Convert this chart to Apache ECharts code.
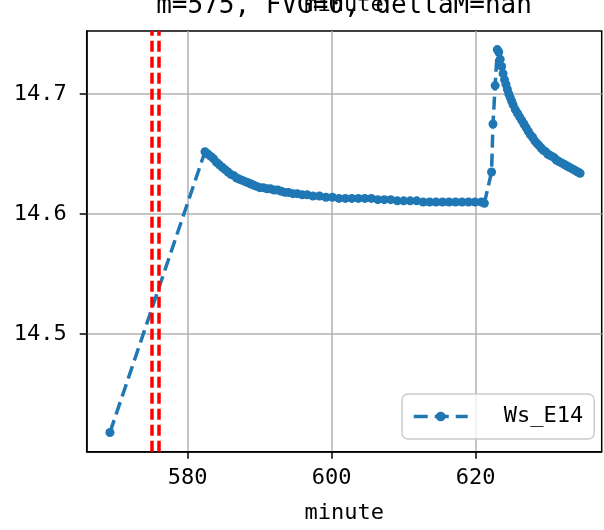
<!DOCTYPE html>
<html>
<head>
<meta charset="utf-8">
<script src="https://cdn.jsdelivr.net/npm/echarts@6/dist/echarts.min.js"></script>
<style>
  html, body { margin: 0; padding: 0; background: #ffffff; }
  #chart { width: 604px; height: 530px; }
</style>
</head>
<body>
<div id="chart"></div>
<script>
// ---- data ----
const titleText = 'm=575, FVG=0, deltaM=nan';
const seriesName = 'Ws_E14';
const xName = 'minute';

const minutes = [
  569.2,
  582.4, 582.8, 583.2, 583.6, 584.0, 584.4, 584.8, 585.2, 585.6, 586.0,
  586.4, 586.8, 587.2, 587.6, 588.0, 588.4, 588.8, 589.2, 589.6, 590.0,
  590.5, 591.0, 591.5, 592.0, 592.5, 593.0, 593.5, 594.0, 594.6, 595.2,
  595.9, 596.6, 597.4, 598.3, 599.2, 600.1, 601.0, 601.9, 602.8, 603.7,
  604.6, 605.5, 606.4, 607.3, 608.2, 609.1, 610.0, 610.9, 611.8, 612.7,
  613.6, 614.5, 615.4, 616.3, 617.2, 618.1, 619.0, 619.9, 620.8, 621.2,
  622.2, 622.4, 622.7,
  623.0, 623.2, 623.4, 623.6, 623.8, 624.0, 624.2, 624.4, 624.6, 624.8,
  625.0, 625.2, 625.5, 625.8, 626.1, 626.4, 626.7, 627.0, 627.3, 627.6,
  627.9, 628.2, 628.5, 628.8, 629.1, 629.4, 629.7, 630.0, 630.3, 630.6,
  630.9, 631.2, 631.5, 631.8, 632.1, 632.4, 632.7, 633.0, 633.3, 633.6,
  633.9, 634.2, 634.5
];
const values = [
  14.418,
  14.652, 14.650, 14.648, 14.646, 14.643, 14.641, 14.639, 14.637, 14.635, 14.633,
  14.632, 14.630, 14.629, 14.628, 14.627, 14.626, 14.625, 14.624, 14.623, 14.622,
  14.622, 14.621, 14.621, 14.620, 14.620, 14.619, 14.618, 14.618, 14.617, 14.617,
  14.616, 14.616, 14.615, 14.615, 14.614, 14.614, 14.613, 14.613, 14.613, 14.613,
  14.613, 14.613, 14.612, 14.612, 14.612, 14.611, 14.611, 14.611, 14.611, 14.610,
  14.610, 14.610, 14.610, 14.610, 14.610, 14.610, 14.610, 14.610, 14.610, 14.609,
  14.635, 14.675, 14.707,
  14.737, 14.735, 14.729, 14.723, 14.717, 14.712, 14.708, 14.704, 14.700, 14.697,
  14.694, 14.691, 14.687, 14.684, 14.681, 14.678, 14.675, 14.672, 14.669, 14.666,
  14.664, 14.661, 14.659, 14.657, 14.655, 14.653, 14.652, 14.650, 14.649, 14.648,
  14.647, 14.645, 14.644, 14.643, 14.642, 14.641, 14.640, 14.639, 14.638, 14.637,
  14.636, 14.635, 14.634
];
const vlineMinutes = [575, 576];
const xTicks = [580, 600, 620];
const yTicks = [14.5, 14.6, 14.7];

// ---- chart ----
const FONT = 'DejaVu Sans Mono';
const BLUE = '#1f77b4';
const chart = echarts.init(document.getElementById('chart'), null, { renderer: 'canvas' });

const option = {
  animation: false,
  backgroundColor: '#ffffff',
  title: {
    text: titleText,
    left: 344,
    textAlign: 'center',
    top: -7,
    padding: 0,
    textStyle: { fontFamily: FONT, fontSize: 26, fontWeight: 'normal', color: '#000' }
  },
  graphic: [{
    type: 'text',
    x: 344, y: 5,
    style: { text: xName, align: 'center', verticalAlign: 'middle',
      fontFamily: FONT, fontSize: 22, fill: '#000' },
    z: 100
  }],
  grid: {
    left: 86.7, right: 2.3, top: 31, bottom: 78.3,
    show: true, borderColor: '#000', borderWidth: 1.5, backgroundColor: '#fff'
  },
  legend: {
    data: [seriesName],
    left: 402, top: 394,
    padding: [10, 11, 10, 10],
    itemWidth: 54, itemHeight: 12,
    backgroundColor: 'rgba(255,255,255,0.8)',
    borderColor: '#cccccc', borderWidth: 1.5, borderRadius: 6,
    lineStyle: { type: [14, 7], width: 3.5 },
    textStyle: { fontFamily: FONT, fontSize: 22, color: '#000',
      padding: [0, 0, 0, 31], lineHeight: 25 }
  },
  xAxis: {
    type: 'value',
    min: 565.97, max: 637.5,
    name: xName, nameLocation: 'middle', nameGap: 51,
    nameTextStyle: { fontFamily: FONT, fontSize: 22, color: '#000' },
    axisLine: { show: true, onZero: false, lineStyle: { color: '#000', width: 1.5 } },
    axisTick: { show: true, customValues: xTicks, length: 7, lineStyle: { color: '#000', width: 1.5 } },
    axisLabel: { customValues: xTicks, margin: 16, fontFamily: FONT, fontSize: 22, color: '#000' },
    splitLine: { show: true, lineStyle: { color: '#b0b0b0', width: 1.5 } }
  },
  yAxis: {
    type: 'value',
    min: 14.402, max: 14.7525,
    axisLine: { show: true, onZero: false, lineStyle: { color: '#000', width: 1.5 } },
    axisTick: { show: true, customValues: yTicks, length: 7, lineStyle: { color: '#000', width: 1.5 } },
    axisLabel: { customValues: yTicks, margin: 20, fontFamily: FONT, fontSize: 22, color: '#000' },
    splitLine: { show: true, lineStyle: { color: '#b0b0b0', width: 1.5 } }
  },
  series: [{
    name: seriesName,
    type: 'line',
    data: minutes.map((m, i) => [m, values[i]]),
    symbol: 'circle',
    symbolSize: 9,
    showSymbol: true,
    showAllSymbol: true,
    itemStyle: { color: BLUE },
    lineStyle: { color: BLUE, width: 3.5, type: [13, 6] },
    markLine: {
      silent: true,
      symbol: ['none', 'none'],
      label: { show: false },
      lineStyle: { color: '#ff0000', width: 3.5, type: [11, 5] },
      data: vlineMinutes.map(m => ({ xAxis: m }))
    }
  }]
};
chart.setOption(option);
</script>
</body>
</html>
